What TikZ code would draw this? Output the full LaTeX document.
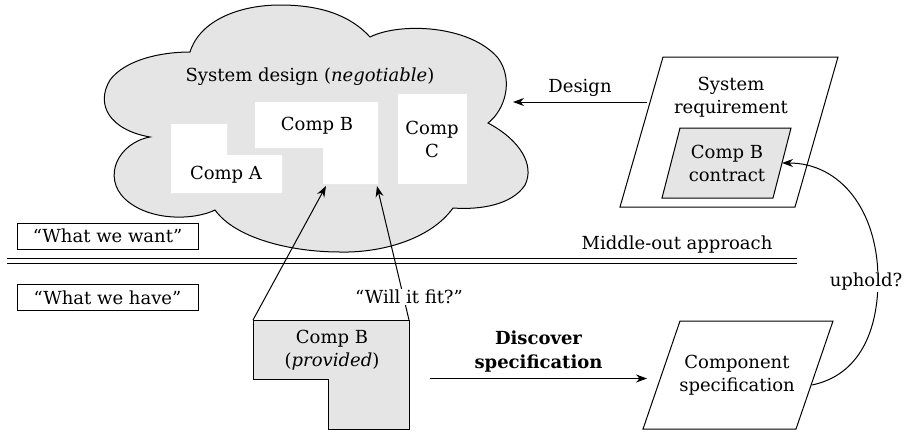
\documentclass[tikz,border=0pt]{standalone}
\usepackage{fontspec}
\setmainfont{DejaVu Serif}
\usetikzlibrary{arrows.meta}
\begin{document}
\begin{tikzpicture}[x=1pt,y=-1pt,
  line width=1pt,
  txt/.style={font=\fontsize{18}{23}\selectfont, align=center, inner sep=1pt},
  labelbox/.style={txt, draw, minimum width=181pt, minimum height=26pt},
  shaded/.style={draw, fill=black!10},
  arr/.style={-{Stealth[length=11pt,width=8pt]}},
]
\useasboundingbox (0,0) rectangle (904,434);

% cloud holding the system design
\draw[fill=black!10]
  (190,52) .. controls (200,20) and (240,5) .. (280,5)
           .. controls (320,5) and (350,15) .. (370,37)
           .. controls (400,22) and (470,25) .. (498,58)
           .. controls (514,80) and (505,110) .. (488,123)
           .. controls (520,140) and (535,165) .. (525,185)
           .. controls (512,205) and (480,210) .. (453,208)
           .. controls (430,240) and (380,253) .. (340,252)
           .. controls (290,252) and (235,238) .. (215,210)
           .. controls (195,220) and (150,222) .. (125,199)
           .. controls (102,177) and (118,143) .. (150,137)
           .. controls (110,130) and (95,105) .. (110,80)
           .. controls (125,60) and (160,52) .. (190,52) -- cycle;
\coordinate (cloudR) at (513,102);

% white component slots
\fill[white] (171,124) -- (227,124) -- (227,155) -- (282,155) -- (282,193) -- (171,193) -- cycle;
\fill[white] (255,102) -- (378,102) -- (378,184) -- (323,184) -- (323,148) -- (255,148) -- cycle;
\fill[white] (398,94) rectangle (467,184);
\coordinate (slotBL) at (326,186);
\coordinate (slotBR) at (377,186);

\node[txt] (sysdesign) at (310,77) {System design (\textit{negotiable})};
\node[txt] (compA) at (226,175) {Comp A};
\node[txt] (compB) at (317,126) {Comp B};
\node[txt] (compC) at (432,139) {Comp\\C};

% left hand labels and the dividing line
\node[labelbox] (want) at (107.5,236) {“What we want”};
\node[labelbox] (have) at (107.5,297.5) {“What we have”};
\coordinate (divL) at (7,263.5);
\coordinate (divR) at (797,263.5);
\draw (divL) -- (divR);
\draw ([yshift=5pt]divL) -- ([yshift=5pt]divR);
\node[txt] (middle) at (677,245) {Middle-out approach};

% system requirement with the contract inside
\draw (663,57) -- (838,57) -- (795,207) -- (620,207) -- cycle;
\coordinate (reqL) at (647,102);
\node[txt] (sysreq) at (731,97) {System\\requirement};
\draw[shaded] (680,128) -- (791,128) -- (773,198) -- (662,198) -- cycle;
\node[txt] (contract) at (727,163) {Comp B\\contract};
\coordinate (contractR) at (782,163);

% provided component
\draw[shaded] (253,320) -- (409,320) -- (409,429) -- (328,429) -- (328,379) -- (253,379) -- cycle;
\coordinate (provTL) at (253,320);
\coordinate (provTR) at (409,320);
\node[txt] (provided) at (332,350) {Comp B\\(\textit{provided})};
\coordinate (discStart) at (430,378.5);

% component specification
\draw (680,321) -- (833,321) -- (796,429) -- (643,429) -- cycle;
\coordinate (specL) at (647,378.5);
\coordinate (specR) at (812,385);
\node[txt] (compspec) at (737,375) {Component\\specification};

% connectors
\draw[arr] (reqL) -- node[txt, above=4pt] (design) {Design} (cloudR);
\draw[arr] (provTL) -- (slotBL);
\draw[arr] (provTR) -- (slotBR);
\node[txt, fill=white] (fit) at (409,297) {“Will it fit?”};
\draw[arr] (discStart) -- node[txt, above=5pt, font=\fontsize{18}{24}\selectfont\bfseries] (discover) {Discover\\specification} (specL);
\draw[arr] (specR) .. controls (860,375) and (878,330) .. (878,280)
                   .. controls (878,210) and (840,163) .. (contractR);
\node[txt, fill=white] (uphold) at (866,282) {uphold?};
\end{tikzpicture}
\end{document}
